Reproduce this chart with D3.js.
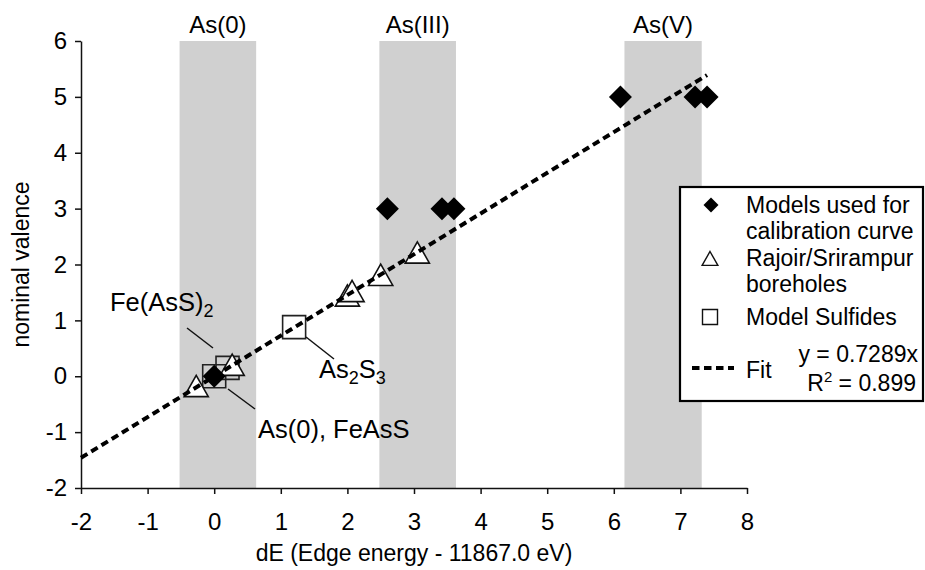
<!DOCTYPE html>
<html><head><meta charset="utf-8">
<script src="https://cdn.jsdelivr.net/npm/d3@7"></script>
<style>body{margin:0;background:#fff;} svg{display:block;font-family:"Liberation Sans",Arial,sans-serif;}</style>
</head><body>
<svg id="c" width="925" height="570"></svg>
<script>
// ---- data ----
const xTicks = [-2,-1,0,1,2,3,4,5,6,7,8];
const yTicks = [-2,-1,0,1,2,3,4,5,6];
const bandLabels = ["As(0)","As(III)","As(V)"];
const bandStart = [-0.52, 2.48, 6.16];
const bandEnd = [0.63, 3.63, 7.32];
const modelX = [0, 2.6, 3.42, 3.6, 6.1, 7.22, 7.4];
const modelY = [0, 3, 3, 3, 5, 5, 5];
const boreX = [-0.27, 0.27, 2.0, 2.07, 2.5, 3.05];
const boreY = [-0.19, 0.19, 1.43, 1.51, 1.8, 2.2];
const sulfX = [0.0, 0.2, 1.2];
const sulfY = [0.0, 0.15, 0.88];
const fitX = [-2, 7.4];
const fitY = [-1.46, 5.39];

const svg = d3.select("#c");
const x = d3.scaleLinear().domain([-2,8]).range([81,747]);
const y = d3.scaleLinear().domain([-2,6]).range([488,41]);

// bands
const bands = bandLabels.map((l,i)=>({l, a:bandStart[i], b:bandEnd[i]}));
svg.selectAll("rect.band").data(bands).join("rect")
  .attr("x",d=>x(d.a)).attr("width",d=>x(d.b)-x(d.a))
  .attr("y",y(6)).attr("height",y(-2)-y(6)).attr("fill","#d0d0d0");
svg.selectAll("text.bl").data(bands).join("text")
  .attr("x",d=>x((d.a+d.b)/2)).attr("y",33).attr("text-anchor","middle")
  .attr("font-size",24).text(d=>d.l);

// axes
const fmt = d => String(d);
const xa = svg.append("g").attr("transform",`translate(0,${y(-2)})`)
  .call(d3.axisBottom(x).tickValues(xTicks).tickSize(6).tickSizeOuter(0).tickFormat(fmt));
const ya = svg.append("g").attr("transform",`translate(${x(-2)},0)`)
  .call(d3.axisLeft(y).tickValues(yTicks).tickSize(6).tickSizeOuter(0).tickFormat(fmt));
[xa,ya].forEach(g=>{
  g.select(".domain").attr("stroke","#111").attr("stroke-width",1.5);
  g.selectAll(".tick line").attr("stroke","#111").attr("stroke-width",1.5);
  g.selectAll(".tick text").attr("font-size",24).attr("fill","#000").attr("font-family","Liberation Sans, Arial, sans-serif");
});
xa.selectAll(".tick text").attr("dy","0").attr("y",42);
ya.selectAll(".tick text").attr("x",-14);
svg.append("text").attr("x",414).attr("y",561).attr("text-anchor","middle")
  .attr("font-size",23).text("dE (Edge energy - 11867.0 eV)");
svg.append("text").attr("transform",`translate(21,${(y(6)+y(-2))/2}) rotate(-90)`)
  .attr("text-anchor","middle").attr("dominant-baseline","central")
  .attr("font-size",23).text("nominal valence");

// markers
const diamond = s=>`M0,${-s}L${s},0L0,${s}L${-s},0Z`;
const tri = s=>`M0,${-s}L${s*1.05},${s*0.85}L${-s*1.05},${s*0.85}Z`;
const sq = s=>`M${-s},${-s}H${s}V${s}H${-s}Z`;
const sulf = sulfX.map((v,i)=>[v,sulfY[i]]);
const bore = boreX.map((v,i)=>[v,boreY[i]]);
const model = modelX.map((v,i)=>[v,modelY[i]]);
svg.selectAll("path.sq").data(sulf).join("path").attr("d",sq(11.5))
  .attr("transform",d=>`translate(${x(d[0])},${y(d[1])})`)
  .attr("fill","none").attr("stroke","#222").attr("stroke-width",1.6);
svg.selectAll("path.tri").data(bore).join("path").attr("d",tri(11.5))
  .attr("transform",d=>`translate(${x(d[0])},${y(d[1])})`)
  .attr("fill","#fff").attr("stroke","#111").attr("stroke-width",1.6);
svg.selectAll("path.dia").data(model).join("path").attr("d",diamond(11.5))
  .attr("transform",d=>`translate(${x(d[0])},${y(d[1])})`).attr("fill","#000");

// fit line
const fit = fitX.map((v,i)=>[x(v),y(fitY[i])]);
svg.append("path").attr("d",d3.line()(fit)).attr("fill","none")
  .attr("stroke","#000").attr("stroke-width",4).attr("stroke-dasharray","7.5,4.5");

// annotations
const ann = svg.append("g").attr("stroke","#111").attr("stroke-width",1.5);
ann.append("line").attr("x1",187).attr("y1",328).attr("x2",213).attr("y2",348);
ann.append("line").attr("x1",228).attr("y1",389).attr("x2",255).attr("y2",409);
ann.append("line").attr("x1",306).attr("y1",337).attr("x2",334).attr("y2",359);
const t1 = svg.append("text").attr("x",110).attr("y",311).attr("font-size",25.5);
t1.append("tspan").text("Fe(AsS)");
t1.append("tspan").attr("font-size",18).attr("dy",6).text("2");
svg.append("text").attr("x",258).attr("y",438).attr("font-size",25.5).text("As(0), FeAsS");
const t3 = svg.append("text").attr("x",319).attr("y",378).attr("font-size",25.5);
t3.append("tspan").text("As");
t3.append("tspan").attr("font-size",18).attr("dy",6).text("2");
t3.append("tspan").attr("dy",-6).text("S");
t3.append("tspan").attr("font-size",18).attr("dy",6).text("3");

// legend
const lg = svg.append("g");
lg.append("rect").attr("x",680).attr("y",187).attr("width",243).attr("height",214)
  .attr("fill","#fff").attr("stroke","#000").attr("stroke-width",2.2);
lg.append("path").attr("d",diamond(7.5)).attr("transform","translate(711,205)").attr("fill","#000");
lg.append("path").attr("d",tri(7.5)).attr("transform","translate(710,259)").attr("fill","#fff").attr("stroke","#111").attr("stroke-width",1.4);
lg.append("path").attr("d",sq(7.5)).attr("transform","translate(710,317)").attr("fill","#fff").attr("stroke","#111").attr("stroke-width",1.4);
lg.append("line").attr("x1",692).attr("x2",734).attr("y1",368).attr("y2",368)
  .attr("stroke","#000").attr("stroke-width",4).attr("stroke-dasharray","7.5,4.5");
const rows = [["Models used for",205],["calibration curve",231],["Rajoir/Srirampur",258],["boreholes",284],["Model Sulfides",317],["Fit",370]];
lg.selectAll("text.r").data(rows).join("text").attr("x",746).attr("y",d=>d[1]+8)
  .attr("font-size",23).text(d=>d[0]);
lg.append("text").attr("x",918).attr("y",362).attr("text-anchor","end").attr("font-size",23).text("y = 0.7289x");
const r2 = lg.append("text").attr("x",916).attr("y",391).attr("text-anchor","end").attr("font-size",23);
r2.append("tspan").text("R");
r2.append("tspan").attr("font-size",15).attr("dy",-9).text("2");
r2.append("tspan").attr("dy",9).text(" = 0.899");
</script>
</body></html>
